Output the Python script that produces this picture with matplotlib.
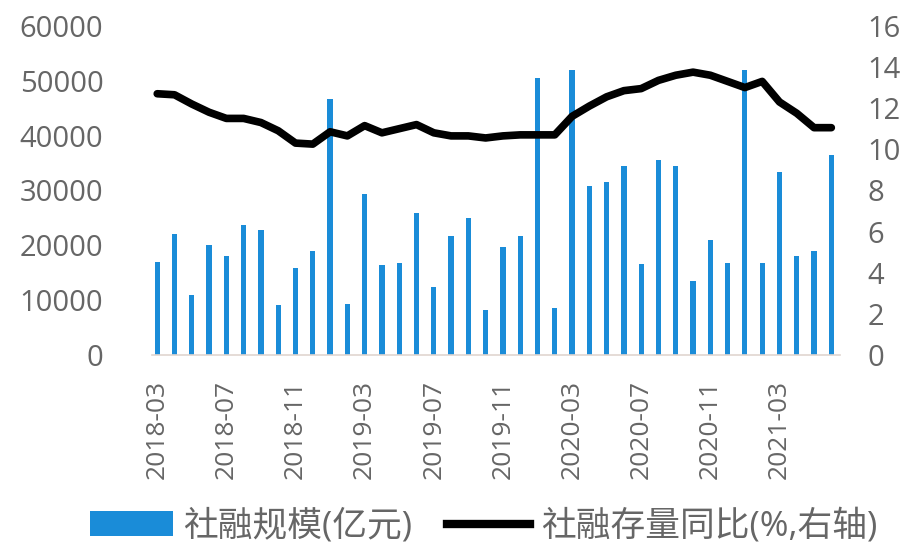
import matplotlib.pyplot as plt
from matplotlib.lines import Line2D
from matplotlib.patches import Patch

plt.rcParams["font.family"] = ["Open Sans", "Noto Sans CJK SC", "DejaVu Sans"]

# monthly data, 2018-03 .. 2021-06
months = [f"{y}-{m:02d}" for y in range(2018, 2022) for m in range(1, 13)]
months = months[months.index("2018-03"):months.index("2021-06") + 1]

tsf_flow = [
    17000, 22100, 11000, 20100, 18100, 23700, 22800, 9100, 15900, 19000,
    46700, 9300, 29400, 16400, 16800, 25900, 12400, 21700, 25000, 8200,
    19700, 21700, 50500, 8500, 51900, 30800, 31600, 34500, 16600, 35600,
    34500, 13500, 21000, 16800, 51900, 16800, 33400, 18100, 19000, 36500,
]
tsf_yoy = [
    12.7, 12.65, 12.2, 11.8, 11.5, 11.5, 11.3, 10.9, 10.3, 10.25,
    10.85, 10.65, 11.15, 10.8, 11.0, 11.2, 10.8, 10.65, 10.65, 10.55,
    10.65, 10.7, 10.7, 10.7, 11.6, 12.1, 12.55, 12.85, 12.95, 13.35,
    13.6, 13.75, 13.6, 13.3, 13.0, 13.3, 12.3, 11.75, 11.05, 11.05,
]

bar_color = "#1a8cd8"
text_color = "#666666"

fig = plt.figure(figsize=(9.17, 5.46), dpi=100)
ax = fig.add_axes([0.1658, 0.35, 0.7502, 0.6026])
ax2 = ax.twinx()

x = list(range(len(months)))
ax.bar(x, tsf_flow, width=0.3, color=bar_color, zorder=2)
ax2.plot(x, tsf_yoy, color="black", lw=5.5, solid_capstyle="round", zorder=3)

ax.set_xlim(-0.3, 39.5)
ax.set_ylim(0, 60000)
ax.set_yticks(range(0, 60001, 10000))
ax2.set_ylim(0, 16)
ax2.set_yticks(range(0, 17, 2))

ax.set_xticks(x[::4])
ax.set_xticklabels(months[::4], rotation=90, fontsize=19, color=text_color)
ax.tick_params(axis="x", length=0, pad=18)
ax.tick_params(axis="y", length=0, pad=35, labelsize=21, labelcolor=text_color)
ax2.tick_params(axis="y", length=0, pad=20, labelsize=21, labelcolor=text_color)

for a in (ax, ax2):
    for side in ("top", "left", "right", "bottom"):
        a.spines[side].set_visible(False)
ax.spines["bottom"].set_visible(True)
ax.spines["bottom"].set_color("#e0d6d0")
ax.spines["bottom"].set_linewidth(1.2)

handles = [
    Patch(facecolor=bar_color, edgecolor="none"),
    Line2D([0], [0], color="black", lw=6),
]
labels = ["社融规模(亿元)", "社融存量同比(%,右轴)"]
leg = fig.legend(
    handles, labels, loc="center", bbox_to_anchor=(0.527, 0.036),
    ncol=2, frameon=False, fontsize=25, handlelength=2.4,
    handletextpad=0.3, columnspacing=1.0, borderpad=0,
)
for t in leg.get_texts():
    t.set_color(text_color)

fig.savefig("out.png", dpi=100)
